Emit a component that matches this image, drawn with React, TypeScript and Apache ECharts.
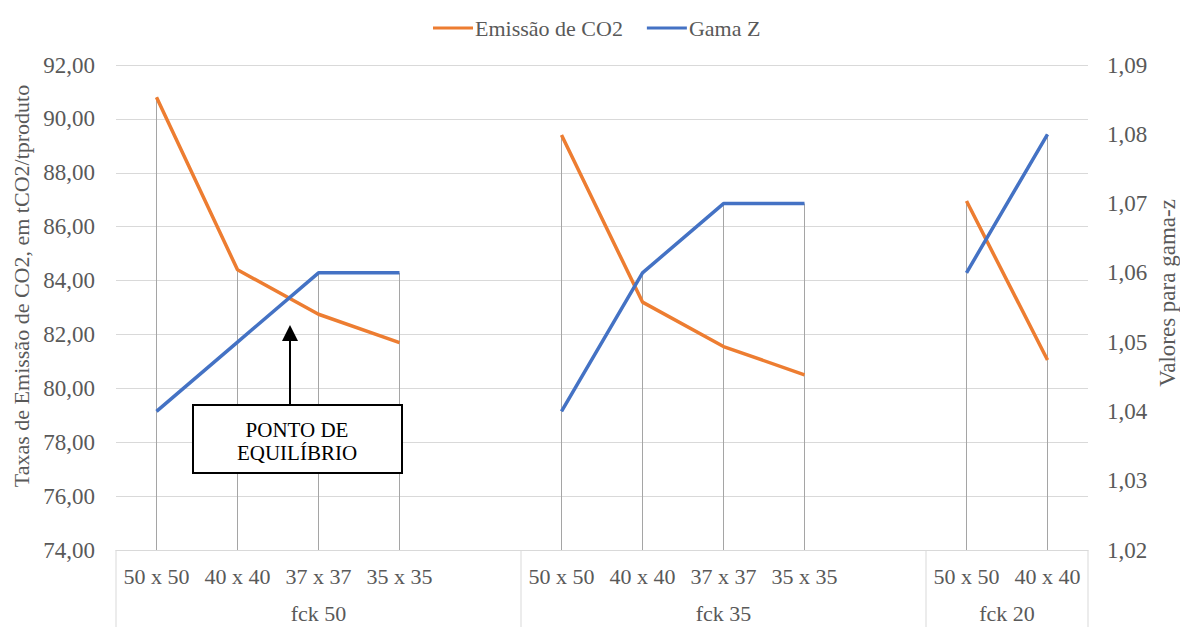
import React, { useEffect, useRef } from "react";
import * as echarts from "echarts";

const categories = [
  "50 x 50", "40 x 40", "37 x 37", "35 x 35", "",
  "50 x 50", "40 x 40", "37 x 37", "35 x 35", "",
  "50 x 50", "40 x 40",
];
const co2Values = [90.8, 84.4, 82.75, 81.7, null, 89.4, 83.2, 81.55, 80.5, null, 86.95, 81.05];
const gamaValues = [1.04, 1.05, 1.06, 1.06, null, 1.04, 1.06, 1.07, 1.07, null, 1.06, 1.08];
const groupNames = ["fck 50", "fck 35", "fck 20"];
const groupStarts = [0, 5, 10];
const groupEnds = [5, 10, 12];
const leftTitle = "Taxas de Emissão de CO2, em tCO2/tproduto";
const rightTitle = "Valores para gama-z";
const annotationText = "PONTO DE\nEQUILÍBRIO";

const FONT = "Liberation Serif";
const TXT = "#595959";
const ORANGE = "#ED7D31";
const BLUE = "#4472C4";
const DROP = "#A5A5A5";
const GRIDC = "#D9D9D9";

const LEFT_MIN = 74, LEFT_MAX = 92;
const RIGHT_MIN = 1.02, RIGHT_MAX = 1.09;

const fmt = (v: number) => v.toFixed(2).replace(".", ",");

function dropData(vals: (number | null)[]) {
  const out: number[][] = [];
  vals.forEach((v, i) => {
    if (v !== null) out.push([i, v]);
  });
  return out;
}

function dropRender(base: number) {
  return (params: any, api: any) => {
    const p = api.coord([api.value(0), api.value(1)]);
    const b = api.coord([api.value(0), base]);
    return {
      type: "line",
      shape: { x1: p[0], y1: p[1], x2: b[0], y2: b[1] },
      style: { stroke: DROP, lineWidth: 1 },
    };
  };
}

export default function App() {
  const ref = useRef<HTMLDivElement>(null);
  useEffect(() => {
    const chart = echarts.init(ref.current!, null, { renderer: "svg" });
    chart.setOption({
      animation: false,
      backgroundColor: "#fff",
      textStyle: { fontFamily: FONT },
      legend: {
        top: 12,
        left: 428,
        itemGap: 24,
        itemWidth: 40,
        itemHeight: 3,
        icon: "rect",
        textStyle: { fontFamily: FONT, fontSize: 22, color: TXT, padding: [0, 0, 0, -3] },
        data: ["Emissão de CO2", "Gama Z"],
      },
      grid: { left: 116, right: 92, top: 65, bottom: 77 },
      xAxis: {
        type: "category",
        data: categories,
        boundaryGap: true,
        axisTick: { show: false },
        axisLine: { show: true, lineStyle: { color: GRIDC, width: 1 } },
        axisLabel: { interval: 0, fontFamily: FONT, fontSize: 22, color: TXT, margin: 15 },
        splitLine: { show: false },
      },
      yAxis: [
        {
          type: "value",
          min: LEFT_MIN,
          max: LEFT_MAX,
          interval: 2,
          axisLine: { show: false },
          axisTick: { show: false },
          axisLabel: { formatter: fmt, fontFamily: FONT, fontSize: 23, color: TXT, margin: 21 },
          splitLine: { show: true, lineStyle: { color: GRIDC, width: 1 } },
        },
        {
          type: "value",
          min: RIGHT_MIN,
          max: RIGHT_MAX,
          interval: 0.01,
          position: "right",
          axisLine: { show: false },
          axisTick: { show: false },
          axisLabel: { formatter: fmt, fontFamily: FONT, fontSize: 23, color: TXT, margin: 19 },
          splitLine: { show: false },
        },
      ],
      series: [
        {
          type: "custom",
          name: "dropCO2",
          xAxisIndex: 0,
          yAxisIndex: 0,
          z: 1,
          renderItem: dropRender(LEFT_MIN),
          data: dropData(co2Values),
          silent: true,
        },
        {
          type: "custom",
          name: "dropGama",
          xAxisIndex: 0,
          yAxisIndex: 1,
          z: 1,
          renderItem: dropRender(RIGHT_MIN),
          data: dropData(gamaValues),
          silent: true,
        },
        {
          type: "line",
          name: "Emissão de CO2",
          yAxisIndex: 0,
          data: co2Values,
          showSymbol: false,
          connectNulls: false,
          z: 3,
          lineStyle: { color: ORANGE, width: 3.5 },
          itemStyle: { color: ORANGE },
        },
        {
          type: "line",
          name: "Gama Z",
          yAxisIndex: 1,
          data: gamaValues,
          showSymbol: false,
          connectNulls: false,
          z: 3,
          lineStyle: { color: BLUE, width: 3.5 },
          itemStyle: { color: BLUE },
        },
      ],
    });

    const cx = (i: number) => chart.convertToPixel({ xAxisIndex: 0 }, i) as number;
    const band = cx(1) - cx(0);
    const edge = (k: number) => cx(0) - band / 2 + k * band;
    const bottomY = chart.convertToPixel({ yAxisIndex: 0 }, LEFT_MIN) as number;
    const H = 627;

    const graphics: any[] = [];
    const bounds = Array.from(new Set([...groupStarts, ...groupEnds]));
    bounds.forEach((k) => {
      graphics.push({
        type: "line",
        shape: { x1: edge(k), y1: bottomY, x2: edge(k), y2: H },
        style: { stroke: GRIDC, lineWidth: 1 },
        z: 5,
      });
    });
    groupNames.forEach((n, gi) => {
      graphics.push({
        type: "text",
        x: (edge(groupStarts[gi]) + edge(groupEnds[gi])) / 2,
        y: bottomY + 63,
        style: {
          text: n,
          fontFamily: FONT,
          fontSize: 22,
          fill: TXT,
          align: "center",
          verticalAlign: "middle",
        },
        z: 5,
      });
    });
    // axis titles
    graphics.push({
      type: "text",
      x: 21,
      y: 286,
      rotation: Math.PI / 2,
      style: { text: leftTitle, fontFamily: FONT, fontSize: 22, fill: TXT, align: "center", verticalAlign: "middle" },
      z: 5,
    });
    graphics.push({
      type: "text",
      x: 1167,
      y: 293,
      rotation: Math.PI / 2,
      style: { text: rightTitle, fontFamily: FONT, fontSize: 23, fill: TXT, align: "center", verticalAlign: "middle" },
      z: 5,
    });
    // annotation
    graphics.push({
      type: "line",
      shape: { x1: 290, y1: 404, x2: 290, y2: 338 },
      style: { stroke: "#000", lineWidth: 2 },
      z: 10,
    });
    graphics.push({
      type: "polygon",
      shape: { points: [[290, 325], [282, 341], [298, 341]] },
      style: { fill: "#000" },
      z: 10,
    });
    graphics.push({
      type: "rect",
      shape: { x: 193, y: 405, width: 209, height: 68 },
      style: { fill: "#fff", stroke: "#000", lineWidth: 2 },
      z: 10,
    });
    graphics.push({
      type: "text",
      x: 297,
      y: 441,
      style: {
        text: annotationText,
        fontFamily: FONT,
        fontSize: 21,
        lineHeight: 23,
        fill: "#000",
        align: "center",
        verticalAlign: "middle",
      },
      z: 11,
    });
    chart.setOption({ graphic: graphics });

    return () => chart.dispose();
  }, []);
  return (
    <div
      ref={ref}
      style={{ position: "fixed", left: 0, top: 0, width: 1180, height: 627 }}
    />
  );
}
